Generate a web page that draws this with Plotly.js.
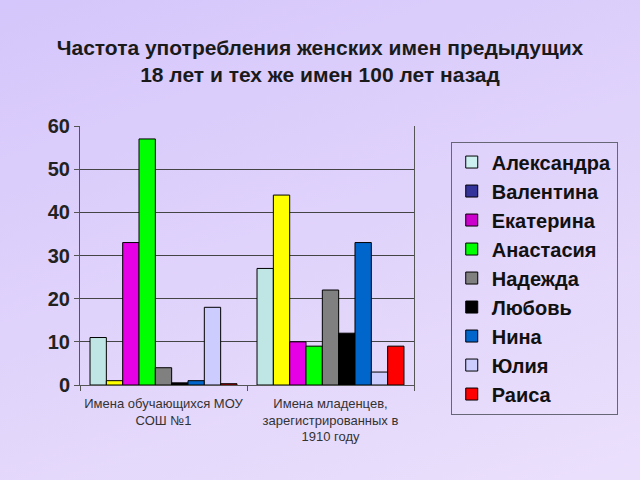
<!DOCTYPE html>
<html>
<head>
<meta charset="utf-8">
<script src="https://cdn.plot.ly/plotly-3.0.1.min.js"></script>
<style>
html, body { margin:0; padding:0; width:640px; height:480px; overflow:hidden;
  background: linear-gradient(160deg, #d5c6fb 0%, #e0d3fb 50%, #ebe0fc 100%); }
#chart { width:640px; height:480px; }
</style>
</head>
<body>
<div id="chart"></div>
<script>
// Categories (x axis)
const categories = [
  "Имена обучающихся МОУ<br>СОШ №1",
  "Имена младенцев,<br>зарегистрированных в<br>1910 году"
];
// Series names (legend)
const seriesNames = ["Александра","Валентина","Екатерина","Анастасия","Надежда","Любовь","Нина","Юлия","Раиса"];
// Values per category, in series order
const schoolValues = [11, 1, 33, 57, 4, 0.5, 1, 18, 0.3];
const babies1910Values = [27, 44, 10, 9, 22, 12, 33, 3, 9];
// Styles
const barColors = ["#bfe6e4","#ffff00","#e600e6","#00ff00","#808080","#000000","#0066cc","#ccccff","#ff0000"];
const legendColors = ["#ccf0f0","#333399","#cc00cc","#00ff00","#808080","#000000","#0066cc","#ccccff","#ff0000"];

const traces = [];
seriesNames.forEach((name, i) => {
  traces.push({
    type: "bar",
    name: name,
    x: categories,
    y: [schoolValues[i], babies1910Values[i]],
    marker: { color: barColors[i], line: { color: "#000000", width: 1 } },
    showlegend: false,
    hoverinfo: "name+y"
  });
});
seriesNames.forEach((name, i) => {
  traces.push({
    type: "scatter",
    mode: "markers",
    name: name,
    x: [null],
    y: [null],
    marker: { symbol: "square", size: 12, color: legendColors[i], line: { color: "#000000", width: 1 } },
    showlegend: true
  });
});

const layout = {
  width: 640, height: 480,
  paper_bgcolor: "rgba(0,0,0,0)",
  plot_bgcolor: "rgba(0,0,0,0)",
  margin: { l: 80, r: 226, t: 126, b: 95 },
  font: { family: "Liberation Sans, Arial, sans-serif", color: "#222222" },
  title: {
    text: "Частота употребления женских имен предыдущих<br>18 лет и тех же имен 100 лет назад",
    font: { size: 21, weight: "bold", color: "#1a1a1a", family: "Liberation Sans, Arial, sans-serif" },
    x: 0.5, xref: "container", xanchor: "center",
    y: 0.886, yref: "container", yanchor: "middle"
  },
  barmode: "group",
  bargap: 0.12,
  bargroupgap: 0,
  xaxis: {
    type: "category",
    tickangle: 0,
    tickfont: { size: 13, color: "#333333" },
    ticks: "outside", tickson: "boundaries", ticklen: 5, tickcolor: "#555555",
    ticklabelstandoff: 6,
    showline: true, linecolor: "#555555",
    showgrid: false
  },
  yaxis: {
    range: [0, 60],
    dtick: 10,
    tickfont: { size: 20, weight: "bold", color: "#222222" },
    ticks: "outside", ticklen: 5, tickcolor: "#555555",
    showline: true, linecolor: "#555555", mirror: true,
    gridcolor: "#444444", gridwidth: 1,
    zeroline: false
  },
  legend: {
    x: 1.11, xanchor: "left", y: 0.94, yanchor: "top",
    bgcolor: "rgba(0,0,0,0)",
    bordercolor: "#666677", borderwidth: 1,
    font: { size: 20, color: "#111111", weight: "bold" },
    maxheight: 320
  },
  showlegend: true
};

Plotly.newPlot("chart", traces, layout, { displayModeBar: false, staticPlot: true });
</script>
</body>
</html>
